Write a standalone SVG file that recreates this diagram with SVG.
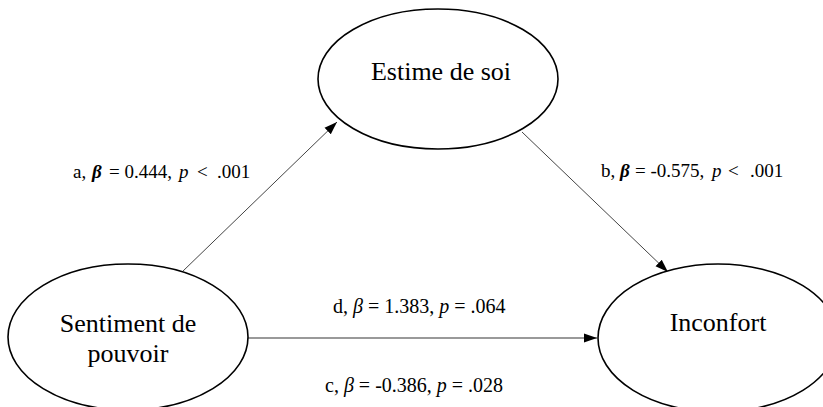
<svg xmlns="http://www.w3.org/2000/svg" width="823" height="407" viewBox="0 0 823 407">
<defs>
<style>
.node{fill:#fff;stroke:#000;stroke-width:1.6}
.nt{font-family:"Liberation Serif","Times New Roman",serif;font-size:26px;fill:#000;text-anchor:middle}
.lab{font-family:"Liberation Serif","Times New Roman",serif;fill:#000}
.s{font-size:19px}
.l{font-size:20px}
.it{font-style:italic}
.bb{font-style:italic;font-weight:bold}
.edge{fill:none;stroke:#444;stroke-width:1}
.edge2{fill:none;stroke:#777;stroke-width:1.6}
</style>
<marker id="arr" markerUnits="userSpaceOnUse" markerWidth="14" markerHeight="10" refX="13" refY="5" orient="auto">
<path d="M0,0.5 L13,5 L0,9.5 z" fill="#000"/>
</marker>
</defs>
<rect width="823" height="407" fill="#fff"/>
<g id="connectors">
<line class="edge" x1="182" y1="272" x2="337" y2="122" marker-end="url(#arr)"/>
<line class="edge" x1="522" y1="132" x2="668" y2="272" marker-end="url(#arr)"/>
<line class="edge2" x1="248" y1="338" x2="597" y2="338" marker-end="url(#arr)"/>
</g>
<g id="node-estime">
<ellipse class="node" cx="438" cy="79" rx="120" ry="70"/>
<text class="nt" x="441" y="80">Estime de soi</text>
</g>
<g id="node-sentiment">
<ellipse class="node" cx="128" cy="337" rx="120" ry="73"/>
<text class="nt" x="128" y="332">Sentiment de</text>
<text class="nt" x="128" y="362">pouvoir</text>
</g>
<g id="node-inconfort">
<ellipse class="node" cx="718" cy="338" rx="120" ry="74"/>
<text class="nt" x="718" y="331">Inconfort</text>
</g>
<g id="labels">
<text class="lab s" y="178"><tspan x="73">a,</tspan><tspan x="92" class="bb">β</tspan><tspan x="109">= 0.444,</tspan><tspan x="179" class="it">p</tspan><tspan x="197">&lt;</tspan><tspan x="217">.001</tspan></text>
<text class="lab s" y="177"><tspan x="601">b,</tspan><tspan x="620" class="bb">β</tspan><tspan x="635">= -0.575,</tspan><tspan x="712" class="it">p</tspan><tspan x="728">&lt;</tspan><tspan x="750">.001</tspan></text>
<text class="lab l" x="333" y="313">d, <tspan class="it">β</tspan> = 1.383, <tspan class="it">p</tspan> = .064</text>
<text class="lab l" x="325" y="392">c, <tspan class="it">β</tspan> = -0.386, <tspan class="it">p</tspan> = .028</text>
</g>
</svg>
